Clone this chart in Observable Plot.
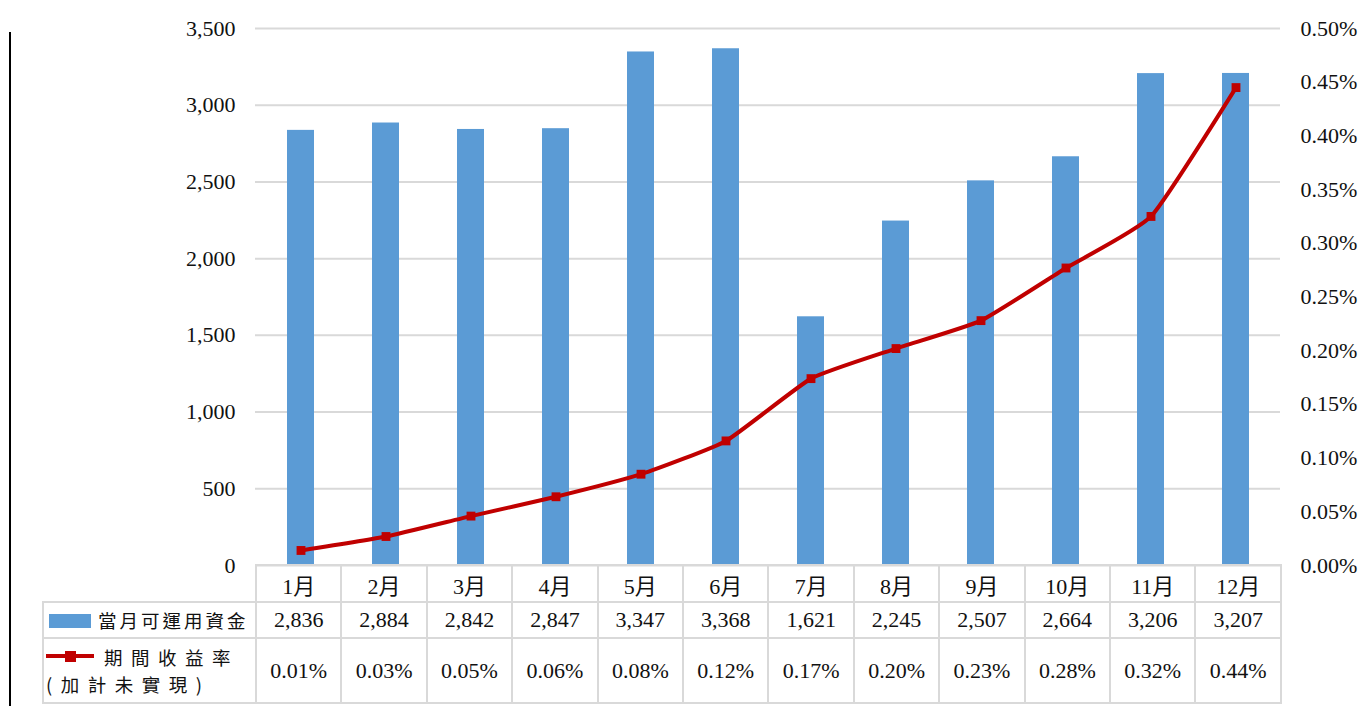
<!DOCTYPE html>
<html>
<head>
<meta charset="utf-8">
<script src="https://cdn.jsdelivr.net/npm/d3@7"></script>
<script src="https://cdn.jsdelivr.net/npm/@observablehq/plot@0.6"></script>
<style>
  html, body { margin: 0; padding: 0; background: #fff; }
  #wrap { position: relative; width: 1363px; height: 706px; overflow: hidden; background: #fff; }
  #chart { position: absolute; left: 0; top: 0; }
  #frame { position: absolute; left: 9px; top: 32px; width: 2px; height: 680px; background: #000; z-index: 5; }
  #tbl { position: absolute; left: 42px; top: 564px; border-collapse: collapse; table-layout: fixed;
         font-family: "Liberation Serif", "Noto Sans CJK TC", serif; font-size: 22px; color: #111; }
  #tbl td { border: 2px solid #d9d9d9; text-align: center; padding: 0; white-space: nowrap; overflow: hidden; }
  #tbl tr.h td { height: 35px; }
  #tbl tr.r1 td { height: 34px; }
  #tbl tr.r2 td { height: 63px; }
  #tbl td.blank { border-top: none; border-left: none; }
  .leg { text-align: left !important; font-family: "Noto Sans CJK TC", sans-serif; font-size: 18.5px; letter-spacing: 3px; }
  .leg2 { letter-spacing: 8.5px; }
  .sw { display: inline-block; vertical-align: middle; }
</style>
</head>
<body>
<div id="wrap">
  <div id="chart"></div>
  <table id="tbl"></table>
  <div id="frame"></div>
</div>
<script>
const months = ["1月","2月","3月","4月","5月","6月","7月","8月","9月","10月","11月","12月"];
const funds = [2836, 2884, 2842, 2847, 3347, 3368, 1621, 2245, 2507, 2664, 3206, 3207];
const rates = [0.014, 0.027, 0.046, 0.064, 0.085, 0.116, 0.174, 0.202, 0.228, 0.277, 0.325, 0.445];
const rateLabels = ["0.01%","0.03%","0.05%","0.06%","0.08%","0.12%","0.17%","0.20%","0.23%","0.28%","0.32%","0.44%"];
const leftTicks = [0, 500, 1000, 1500, 2000, 2500, 3000, 3500];
const rightTicks = [0, 0.05, 0.10, 0.15, 0.20, 0.25, 0.30, 0.35, 0.40, 0.45, 0.50];
const seriesNames = ["當月可運用資金", "期間收益率", "(加計未實現)"];

const yMax = 3500, rMax = 0.5;
const toLeft = r => r / rMax * yMax;

const barData = months.map((m, i) => ({month: m, value: funds[i]}));
const lineData = months.map((m, i) => ({month: m, value: toLeft(rates[i])}));

const chart = Plot.plot({
  width: 1363,
  height: 580,
  marginTop: 28,
  marginBottom: 15,
  marginLeft: 255,
  marginRight: 83,
  style: { fontFamily: "'Liberation Serif', serif", fontSize: "22px", color: "#111", background: "#fff" },
  x: { domain: months, padding: 0, axis: null },
  y: { domain: [0, yMax], axis: null },
  marks: [
    Plot.gridY(leftTicks, { stroke: "#d9d9d9", strokeOpacity: 1, strokeWidth: 2 }),
    Plot.barY(barData, { x: "month", y: "value", fill: "#5b9bd5", insetLeft: 29, insetRight: 29 }),
    Plot.line(lineData, { x: "month", y: "value", stroke: "#c00000", strokeWidth: 4, curve: d3.curveCardinal.tension(0.55) }),
    Plot.dot(lineData, { x: "month", y: "value", symbol: "square", r: 5, fill: "#c00000", stroke: "none" }),
    Plot.axisY(leftTicks, { anchor: "left", tickSize: 0, tickPadding: 20, label: null, tickFormat: d3.format(",") }),
    Plot.axisY(rightTicks.map(toLeft), { anchor: "right", tickSize: 0, tickPadding: 20, label: null,
      tickFormat: d => (d / yMax * rMax).toFixed(2) + "%" })
  ]
});
document.getElementById("chart").appendChild(chart);

// data table under the chart
const colW = (1363 - 255 - 83) / months.length;
const tbl = document.getElementById("tbl");
const cg = document.createElement("colgroup");
cg.innerHTML = `<col style="width:213px">` + months.map(() => `<col style="width:${colW}px">`).join("");
tbl.appendChild(cg);
const tb = document.createElement("tbody");
tb.innerHTML =
  `<tr class="h"><td class="blank"></td>${months.map(m => `<td>${m}</td>`).join("")}</tr>` +
  `<tr class="r1"><td class="leg"><span class="sw" style="width:42px;height:14px;background:#5b9bd5;margin:0 7px 0 5px;position:relative;top:-2px"></span>${seriesNames[0]}</td>${funds.map(v => `<td>${d3.format(",")(v)}</td>`).join("")}</tr>` +
  `<tr class="r2"><td class="leg leg2" style="line-height:27px"><span style="display:inline-block;vertical-align:middle;margin:0 4px 0 2px;position:relative;top:-3px;width:48px;height:4px;background:#c00000;letter-spacing:0"><span style="position:absolute;left:19px;top:-3.5px;width:11px;height:11px;background:#c00000"></span></span><span style="margin-left:6px">${seriesNames[1]}</span><br><span style="margin-left:2px">${seriesNames[2]}</span></td>${rateLabels.map(v => `<td>${v}</td>`).join("")}</tr>`;
tbl.appendChild(tb);
</script>
</body>
</html>
